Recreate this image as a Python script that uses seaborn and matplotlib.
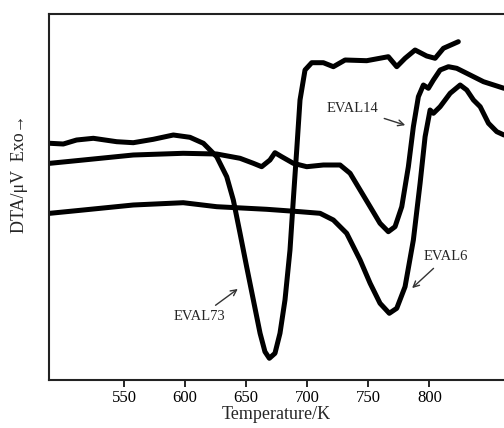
import numpy as np
import pandas as pd
import matplotlib
matplotlib.use("Agg")
import matplotlib.pyplot as plt
import seaborn as sns

# DTA curves (temperature in K, signal in arbitrary units)
eval73_T = [489.4, 500.3, 511.2, 524.9, 544.0, 557.6, 574.0, 590.4, 604.0, 615.0,
            625.9, 634.1, 639.5, 645.0, 650.4, 655.9, 661.4, 665.4, 669.0, 673.6,
            677.7, 681.8, 685.9, 688.6, 691.4, 694.1, 698.2, 703.7, 713.2, 721.4,
            731.0, 748.7, 766.4, 773.3, 780.1, 788.3, 797.8, 804.7, 811.5, 823.7]
eval73_v = [236.7, 236.0, 240.0, 241.7, 238.3, 237.3, 240.7, 245.0, 242.7, 236.7,
            223.3, 203.3, 180.0, 146.7, 113.3, 80.0, 46.7, 28.3, 21.7, 26.7,
            46.7, 80.0, 130.0, 180.0, 230.0, 280.0, 310.0, 317.3, 317.3, 313.3,
            320.0, 319.3, 323.3, 313.3, 321.7, 330.0, 324.0, 321.7, 331.7, 338.3]

eval14_T = [489.4, 516.7, 557.6, 598.5, 625.9, 645.0, 655.9, 662.7, 669.5, 673.6,
            679.1, 688.6, 699.6, 713.2, 726.9, 735.1, 743.3, 751.5, 759.6, 766.4,
            771.9, 777.4, 782.8, 786.9, 791.0, 795.1, 799.2, 803.3, 808.8, 815.6,
            822.4, 830.6, 844.3, 861.1]
eval14_v = [216.7, 220.0, 225.0, 226.7, 226.0, 221.7, 216.7, 213.3, 220.0, 227.3,
            223.3, 216.7, 213.3, 215.0, 215.0, 206.7, 190.0, 173.3, 156.7, 148.3,
            153.3, 173.3, 213.3, 253.3, 283.3, 295.0, 291.7, 300.0, 310.0, 313.3,
            311.7, 306.7, 298.3, 291.7]

eval6_T = [489.4, 516.7, 557.6, 598.5, 625.9, 666.8, 694.1, 710.5, 721.4, 732.3,
           743.3, 751.5, 759.6, 767.2, 773.3, 780.1, 786.9, 792.4, 796.5, 800.6,
           803.3, 808.8, 817.0, 825.2, 830.6, 836.1, 841.6, 848.4, 855.2, 861.1]
eval6_v = [166.7, 170.0, 175.0, 177.3, 173.3, 170.7, 168.3, 166.7, 160.0, 146.7,
           120.0, 96.7, 76.7, 66.7, 71.7, 93.3, 140.0, 196.7, 243.3, 270.0,
           266.7, 273.3, 286.7, 295.0, 290.0, 280.0, 273.3, 256.7, 248.3, 245.0]

xticks = [550, 600, 650, 700, 750, 800]

df = pd.concat([
    pd.DataFrame({"T": eval73_T, "v": eval73_v, "sample": "EVAL73"}),
    pd.DataFrame({"T": eval14_T, "v": eval14_v, "sample": "EVAL14"}),
    pd.DataFrame({"T": eval6_T, "v": eval6_v, "sample": "EVAL6"}),
])

sns.set_style("white")
plt.rcParams["font.family"] = ["Liberation Serif", "DejaVu Serif"]

fig = plt.figure(figsize=(5.04, 4.28), dpi=100)
ax = fig.add_axes([49 / 504, 48 / 428, 1 - 49 / 504, 366 / 428])

sns.lineplot(data=df, x="T", y="v", units="sample", estimator=None, sort=False,
             color="black", lw=3.6, ax=ax, solid_capstyle="round")

ax.set_xlim(488.6, 861.1)
ax.set_ylim(0, 366)
ax.set_xticks(xticks)
ax.set_yticks([])
ax.tick_params(axis="x", direction="out", length=5, width=1.2, labelsize=12,
               bottom=True, pad=2, colors="black")
for s in ["left", "bottom", "top"]:
    ax.spines[s].set_color("#222222")
    ax.spines[s].set_linewidth(1.5)
ax.spines["right"].set_visible(False)

ax.set_xlabel("Temperature/K", fontsize=13, labelpad=0)
ax.set_ylabel("")
fig.text(20 / 504, 1 - 174 / 428, "DTA/μV  Exo→", rotation=90, fontsize=13,
         ha="center", va="center")

arrow = dict(arrowstyle="->", color="#333333", lw=1.0)
ax.annotate("EVAL14", xy=(782.4, 254), xytext=(758.2, 271.7), fontsize=10.5,
            ha="right", va="center", arrowprops=arrow)
ax.annotate("EVAL6", xy=(784.2, 90), xytext=(795.6, 123.3), fontsize=10.5,
            ha="left", va="center", arrowprops=arrow)
ax.annotate("EVAL73", xy=(645, 92.7), xytext=(612.2, 63.3), fontsize=10.5,
            ha="center", va="center", arrowprops=arrow)

fig.savefig("out.png", dpi=100)
